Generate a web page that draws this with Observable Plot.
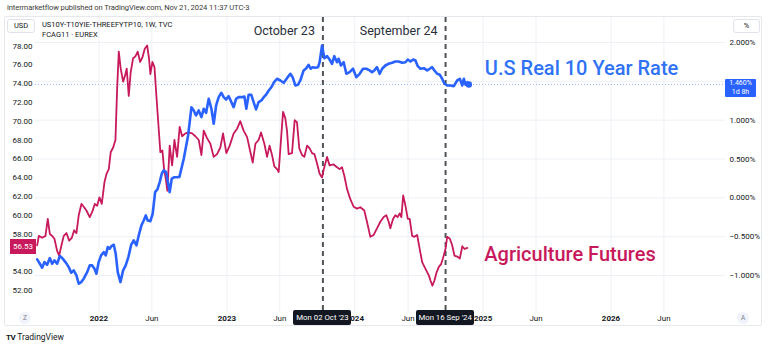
<!DOCTYPE html>
<html><head><meta charset="utf-8">
<script src="https://cdn.jsdelivr.net/npm/d3@7"></script>
<script src="https://cdn.jsdelivr.net/npm/@observablehq/plot@0.6"></script>
<style>
body{margin:0;background:#fff;font-family:Roboto,"Noto Sans",sans-serif;}
#wrap{position:relative;width:768px;height:347px;overflow:hidden;background:#fff;}
#chart{position:absolute;left:0;top:0;}
.abs{position:absolute;white-space:nowrap;box-sizing:border-box;}
</style></head><body><div id="wrap"><div id="chart"></div></div>
<script>
// ---- Data (decimal years) ----
const agriYears = [
2021.517,2021.530,2021.556,2021.582,2021.600,2021.616,2021.634,2021.652,2021.673,2021.689,
2021.707,2021.725,2021.746,2021.767,2021.788,2021.806,2021.824,2021.842,2021.863,2021.881,
2021.902,2021.928,2021.949,2021.967,2021.986,2022.004,2022.022,2022.043,2022.059,2022.077,
2022.092,2022.111,2022.129,2022.142,2022.155,2022.170,2022.189,2022.205,2022.217,2022.233,
2022.248,2022.267,2022.285,2022.303,2022.322,2022.340,2022.358,2022.377,2022.392,2022.402,
2022.418,2022.434,2022.449,2022.467,2022.480,2022.496,2022.509,2022.522,2022.535,
2022.553,2022.572,2022.590,2022.611,2022.631,2022.650,2022.676,2022.702,2022.728,2022.754,
2022.780,2022.801,2022.819,2022.845,2022.871,2022.897,2022.923,2022.949,2022.970,2022.996,
2023.022,2023.053,2023.080,2023.105,2023.131,2023.158,2023.184,2023.202,2023.223,2023.248,
2023.267,2023.293,2023.314,2023.334,2023.353,2023.371,2023.392,2023.405,2023.418,2023.439,
2023.457,2023.470,2023.483,2023.509,2023.530,2023.548,2023.566,2023.588,2023.605,2023.627,
2023.647,2023.666,2023.684,2023.705,2023.725,2023.744,
2023.756,2023.783,2023.803,2023.834,2023.861,2023.881,2023.900,2023.918,2023.939,2023.965,
2023.991,2024.017,2024.043,2024.074,2024.095,2024.121,2024.147,2024.173,2024.199,2024.225,
2024.246,2024.264,2024.277,2024.298,2024.316,2024.334,2024.350,2024.363,2024.377,2024.395,
2024.413,2024.428,2024.447,2024.465,2024.486,2024.506,2024.525,2024.551,2024.577,2024.590,
2024.605,2024.621,2024.637,2024.655,2024.673,2024.689,2024.707,2024.720,2024.741,2024.759,
2024.777,2024.798,2024.819,2024.838,2024.856,2024.877];
const agriValues = [
56.8,57.8,57.6,57.8,59.6,58.0,57.8,57.5,56.2,55.7,
56.8,57.8,58.1,57.3,57.6,58.4,58.1,60.0,61.2,60.9,
60.5,59.8,60.4,61.2,61.0,61.9,61.2,63.5,64.4,64.9,
66.7,67.2,68.0,73.4,77.4,75.6,74.2,74.9,75.6,72.7,
75.2,76.7,76.9,77.4,76.3,76.8,77.7,78.05,76.6,75.0,
76.3,75.75,72.7,69.2,66.7,66.9,64.9,63.9,62.6,
67.4,65.3,68.0,66.2,69.4,68.4,68.7,68.8,68.7,68.4,
68.0,66.4,69.0,68.2,67.6,66.2,66.5,67.2,68.7,66.6,
67.4,68.7,69.2,70.0,69.0,68.3,66.7,65.6,67.6,68.0,
68.8,67.6,66.2,67.4,66.4,65.2,64.9,64.6,67.1,71.0,
70.3,69.0,66.5,66.6,70.1,69.9,67.1,66.4,66.2,67.4,
67.1,66.6,66.5,65.5,64.4,64.0,
64.8,66.2,65.3,65.4,65.1,64.9,65.1,64.2,62.8,61.7,
60.9,60.7,60.85,60.5,59.3,57.7,57.9,58.6,59.3,59.8,
60.0,59.3,58.6,59.6,60.0,59.8,60.2,59.8,62.1,61.0,
59.6,59.6,57.8,57.7,57.9,56.4,55.0,54.3,53.6,53.05,
52.5,53.05,53.9,54.5,54.8,55.5,56.4,57.7,57.5,56.8,
55.7,55.6,55.4,56.7,56.4,56.53];
const rateYears = [
2021.517,2021.538,2021.556,2021.574,2021.595,2021.616,2021.634,2021.652,2021.673,2021.694,
2021.713,2021.738,2021.764,2021.783,2021.803,2021.824,2021.842,2021.861,2021.881,2021.908,
2021.928,2021.947,2021.965,2021.980,2021.998,2022.017,2022.038,2022.053,2022.069,2022.084,
2022.098,2022.116,2022.131,2022.147,2022.168,2022.189,2022.209,2022.230,2022.252,2022.272,
2022.293,2022.311,2022.332,2022.350,2022.366,2022.381,2022.402,2022.420,2022.439,2022.457,
2022.475,2022.491,2022.506,2022.525,2022.541,2022.553,2022.569,2022.590,2022.611,2022.629,
2022.663,2022.697,2022.723,2022.741,2022.759,2022.780,2022.801,2022.819,2022.838,2022.858,
2022.879,2022.897,2022.916,2022.936,2022.957,2022.975,2022.994,2023.014,2023.035,2023.053,
2023.072,2023.092,2023.119,2023.137,2023.152,2023.170,2023.191,2023.209,2023.228,2023.248,
2023.270,2023.288,2023.306,2023.327,2023.348,2023.369,2023.392,2023.418,2023.444,2023.470,
2023.496,2023.514,2023.535,2023.556,2023.574,2023.600,2023.621,2023.639,2023.655,2023.670,
2023.691,2023.713,2023.725,2023.744,
2023.762,2023.783,2023.803,2023.822,2023.840,2023.861,2023.873,2023.892,2023.913,2023.934,
2023.959,2023.986,2024.012,2024.038,2024.064,2024.090,2024.116,2024.134,2024.152,2024.173,
2024.194,2024.213,2024.238,2024.264,2024.291,2024.316,2024.342,2024.369,2024.395,2024.413,
2024.434,2024.455,2024.473,2024.491,2024.512,2024.538,2024.564,2024.584,2024.603,2024.621,
2024.642,2024.663,2024.681,2024.699,2024.720,2024.746,2024.772,2024.798,2024.819,2024.838,
2024.850,2024.863,2024.877,2024.889];
const ratePct = [
-0.793,-0.848,-0.900,-0.827,-0.861,-0.776,-0.848,-0.806,-0.848,-0.750,
-0.776,-0.827,-0.892,-0.964,-0.934,-0.999,-1.106,-1.085,-1.041,-0.956,
-0.870,-0.870,-0.913,-0.977,-0.827,-0.741,-0.699,-0.741,-0.634,-0.655,
-0.621,-0.604,-0.720,-0.956,-1.085,-0.934,-0.870,-0.763,-0.604,-0.548,
-0.612,-0.484,-0.355,-0.291,-0.227,-0.291,-0.300,-0.205,0.073,0.108,
0.202,0.310,0.353,0.331,0.182,0.073,0.246,0.266,0.266,0.270,
0.503,0.803,1.167,1.125,1.060,1.125,1.039,1.147,1.095,1.275,
1.147,0.954,1.189,1.296,1.353,1.296,1.266,1.309,1.232,1.167,
1.275,1.296,1.296,1.305,1.147,1.327,1.327,1.232,1.138,1.232,
1.254,1.296,1.327,1.382,1.425,1.489,1.533,1.511,1.481,1.541,
1.597,1.553,1.447,1.456,1.511,1.640,1.669,1.713,1.662,1.682,
1.674,1.682,1.746,1.961,
1.798,1.824,1.781,1.726,1.824,1.746,1.790,1.704,1.746,1.597,
1.618,1.662,1.553,1.597,1.662,1.662,1.640,1.618,1.640,1.682,
1.597,1.662,1.704,1.726,1.739,1.755,1.755,1.739,1.746,1.781,
1.755,1.781,1.768,1.695,1.662,1.669,1.640,1.662,1.682,1.640,
1.597,1.584,1.533,1.469,1.447,1.447,1.438,1.511,1.533,1.447,
1.533,1.456,1.489,1.460];

// tick values (labels hidden behind the last-value boxes are left out: 56.00 and 1.500%)
const leftTicks = [52,54,58,60,62,64,66,68,70,72,74,76,78];
const gridPct = [2,1.5,1,0.5,0,-0.5,-1];
const rightTicks = [2,1,0.5,0,-0.5,-1];
const yearTicks = ["2022-01-01","2023-01-01","2024-01-01","2025-01-01","2026-01-01"];
const junTicks = ["2022-06-01","2023-06-01","2024-06-01","2025-06-01","2026-06-01"];
const markerDates = ["2023-10-02","2024-09-16"];
const markerTitles = ["October 23","September 24"];
const markerLabels = ["Mon 02 Oct '23","Mon 16 Sep '24"];
const seriesNames = ["U.S Real 10 Year Rate","Agriculture Futures"];
const rateTitle = "US10Y-T10YIE-THREEFYTP10, 1W, TVC";
const agriTitle = "FCAG11 · EUREX";
const header = "intermarketflow published on TradingView.com, Nov 21, 2024 11:37 UTC-3";
const lastRateLabel = ["1.460%","1d 8h"];

// ---- helpers ----
const BLUE = "#2962ff", RED = "#c8195c", TEXT = "#131722";
function yearToDate(y){const yr=Math.floor(y);const a=Date.UTC(yr,0,1),b=Date.UTC(yr+1,0,1);return new Date(a+(y-yr)*(b-a));}
// right (%) axis aligned onto left axis units
const rateToLeft = p => 61.847 + 8.2624*p;
const leftToRate = v => (v - 61.847)/8.2624;
const fmtPct = v => {let r=Math.round(leftToRate(v)*1000)/1000; if(Math.abs(r)<1e-9) r=0; return (r<0?"\u2212":"")+Math.abs(r).toFixed(3)+"%";};

const agri = agriYears.map((y,i)=>({date:yearToDate(y), value:agriValues[i]}));
const rate = rateYears.map((y,i)=>({date:yearToDate(y), pct:ratePct[i], value:rateToLeft(ratePct[i])}));
const markers = markerDates.map((d,i)=>({date:new Date(d), title:markerTitles[i], label:markerLabels[i]}));
const lastRate = rate[rate.length-1], lastAgri = agri[agri.length-1];

const plot = Plot.plot({
  width:768, height:347,
  marginLeft:35, marginRight:43, marginTop:17, marginBottom:35,
  style:{fontFamily:"Roboto, 'Noto Sans', sans-serif", background:"transparent", overflow:"visible"},
  x:{type:"utc", domain:[yearToDate(2021.504), yearToDate(2026.895)]},
  y:{domain:[49.65, 81.03]},
  marks:[
    Plot.gridY(gridPct.map(rateToLeft), {stroke:"#eef0f5", strokeOpacity:1}),
    Plot.gridX([...yearTicks, ...junTicks].map(d=>new Date(d)), {stroke:"#eef0f5", strokeOpacity:1}),
    Plot.ruleY([lastRate.value], {stroke:BLUE, strokeOpacity:0.45, strokeDasharray:"1,2", strokeWidth:1}),
    Plot.ruleX(markers, {x:"date", stroke:"#505359", strokeWidth:2, strokeDasharray:"5,4"}),
    Plot.line(agri, {x:"date", y:"value", stroke:RED, strokeWidth:1.8, curve:"linear"}),
    Plot.line(rate, {x:"date", y:"value", stroke:BLUE, strokeWidth:2.6, curve:"linear"}),
    Plot.dot([lastRate], {x:"date", y:"value", r:3.2, fill:BLUE}),
    Plot.text(markers, {x:"date", text:"title", frameAnchor:"top", dy:9, dx:-8, textAnchor:"end", fontSize:12.5, fill:"#2a2e39"}),
    Plot.text([lastRate], {x:"date", y:"value", text:()=>seriesNames[0], textAnchor:"start", dx:16, dy:-16, fontSize:20, fontWeight:500, fill:"#2f72f6"}),
    Plot.text([lastAgri], {x:"date", y:"value", text:()=>seriesNames[1], textAnchor:"start", dx:17, dy:7, fontSize:20, fontWeight:500, fill:RED}),
    Plot.axisY(leftTicks, {anchor:"left", label:null, tickSize:0, tickPadding:3, tickFormat:d=>d.toFixed(2), fontSize:8, color:TEXT}),
    Plot.axisY(rightTicks.map(rateToLeft), {anchor:"right", label:null, tickSize:0, tickPadding:4, tickFormat:fmtPct, fontSize:8, color:TEXT}),
    Plot.axisX(yearTicks.map(d=>new Date(d)), {label:null, tickSize:0, tickPadding:3, tickFormat:d=>String(d.getUTCFullYear()), fontSize:8, fontWeight:"bold", color:TEXT}),
    Plot.axisX(junTicks.map(d=>new Date(d)), {label:null, tickSize:0, tickPadding:3, tickFormat:()=>"Jun", fontSize:8, color:TEXT})
  ]
});
document.getElementById("chart").append(plot);

const xs = plot.scale("x"), ys = plot.scale("y");
const wrap = document.getElementById("wrap");
function add(html, css){const d=document.createElement("div");d.className="abs";d.innerHTML=html;Object.assign(d.style,css);wrap.append(d);return d;}

// panel border
add("", {left:"4px", top:"16px", width:"758px", height:"310px", border:"1px solid #e6e8ee", borderRadius:"2px"});
add(header, {left:"7px", top:"3px", fontSize:"7.6px", color:"#3b3b3b", letterSpacing:"-0.1px"});
add("USD", {left:"7px", top:"19px", width:"28px", height:"14px", border:"1px solid #e0e3eb", borderRadius:"3px", fontSize:"7.5px", color:TEXT, textAlign:"center", lineHeight:"12px", background:"#fff"});
add("%", {left:"733px", top:"19px", width:"27px", height:"14px", border:"1px solid #e0e3eb", borderRadius:"3px", fontSize:"7.5px", color:TEXT, textAlign:"center", lineHeight:"12px", background:"#fff"});
add(rateTitle, {left:"42px", top:"20px", fontSize:"7.5px", color:TEXT});
add(agriTitle, {left:"42px", top:"30px", fontSize:"7.5px", color:TEXT});
// date labels on time axis
markers.forEach(m=>{
  const cx = xs.apply(m.date);
  add(m.label, {left:(cx-29)+"px", top:"310px", width:"58px", height:"15px", background:"#131722", color:"#fff", fontSize:"7.8px", textAlign:"center", lineHeight:"15px", borderRadius:"2px"});
});
// last value boxes
const ay = ys.apply(lastAgri.value);
add(lastAgri.value.toFixed(2), {left:"10px", top:(ay-8)+"px", width:"26px", height:"15px", background:RED, color:"#fff", fontSize:"8px", textAlign:"center", lineHeight:"15px"});
const ry = ys.apply(lastRate.value);
add(lastRateLabel[0]+"<br>"+lastRateLabel[1], {left:"725px", top:(ry-5)+"px", width:"31px", height:"18px", background:BLUE, color:"#fff", fontSize:"7px", textAlign:"center", lineHeight:"8.5px", paddingTop:"0.5px", borderRadius:"1px"});
// Z / A buttons
add("Z", {left:"19px", top:"312px", width:"12px", height:"12px", borderRadius:"6px", background:"#f0f3fa", color:"#787b86", fontSize:"6.5px", textAlign:"center", lineHeight:"12px"});
add("A", {left:"737px", top:"312px", width:"12px", height:"12px", borderRadius:"6px", background:"#f0f3fa", color:"#787b86", fontSize:"6.5px", textAlign:"center", lineHeight:"12px"});
// footer logo
add("<b style='font-size:8px;letter-spacing:-0.5px'>TV</b> TradingView", {left:"6px", top:"332px", fontSize:"8.5px", color:TEXT});
</script></body></html>
